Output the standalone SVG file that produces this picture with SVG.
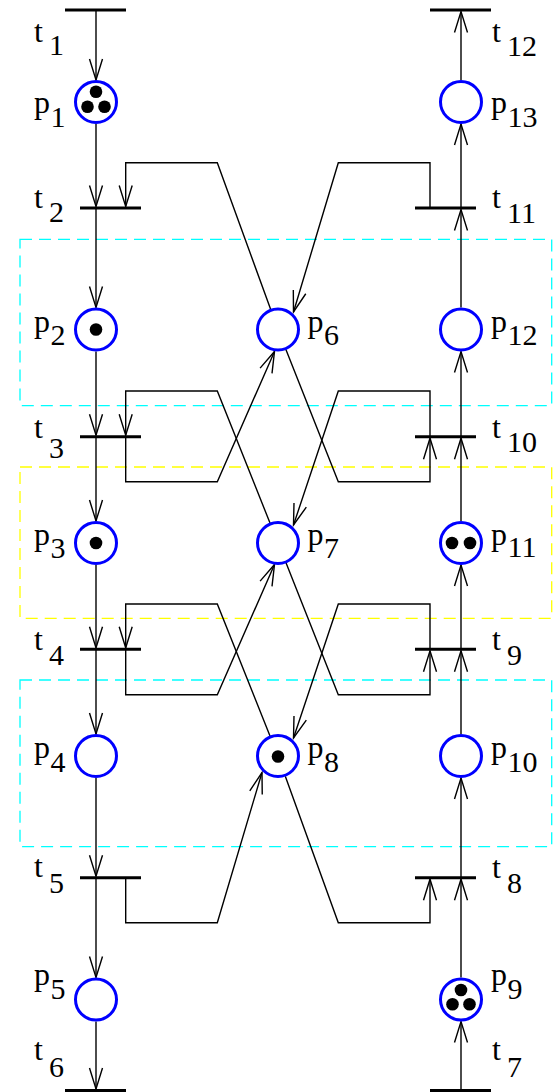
<svg xmlns="http://www.w3.org/2000/svg" width="553" height="1092" viewBox="0 0 553 1092">
<style>
.box{fill:none;stroke-width:1.3;stroke-dasharray:12 7}
.cy{stroke:#00FFFF}
.ye{stroke:#FFFF00}
.arc{fill:none;stroke:#000;stroke-width:1.4}
.pl{fill:#fff;stroke:#0000FF;stroke-width:3}
.tk{fill:#000}
.tr{stroke:#000;stroke-width:3}
.lb{font-size:32px;fill:#000}
.sb{font-size:30px;fill:#000}
</style>
<defs>
<marker id="ah" markerUnits="userSpaceOnUse" markerWidth="30" markerHeight="20" viewBox="-25 -10 30 20" refX="0" refY="0" orient="auto">
<path d="M-21,-6.5 L0,0 L-21,6.5" fill="none" stroke="#000" stroke-width="1.4"/>
</marker>
</defs>
<rect fill="#fff" x="0" y="0" width="553" height="1092"/>
<g id="regions">
<rect class="box cy" x="20" y="239.3" width="531.7" height="166.4"/>
<rect class="box ye" x="20" y="467" width="531.7" height="151.3"/>
<rect class="box cy" x="20" y="680" width="531.7" height="166.7"/>
</g>
<g id="connectors" class="arc">
<line x1="96" y1="10" x2="96" y2="80" marker-end="url(#ah)"/>
<line x1="96" y1="124" x2="96" y2="206.5" marker-end="url(#ah)"/>
<line x1="96" y1="208" x2="96" y2="307.5" marker-end="url(#ah)"/>
<line x1="96" y1="351.5" x2="96" y2="435.2" marker-end="url(#ah)"/>
<line x1="96" y1="436.7" x2="96" y2="521" marker-end="url(#ah)"/>
<line x1="96" y1="565" x2="96" y2="647.8" marker-end="url(#ah)"/>
<line x1="96" y1="649.3" x2="96" y2="734" marker-end="url(#ah)"/>
<line x1="96" y1="778" x2="96" y2="876.2" marker-end="url(#ah)"/>
<line x1="96" y1="877.7" x2="96" y2="977.5" marker-end="url(#ah)"/>
<line x1="96" y1="1021.5" x2="96" y2="1089" marker-end="url(#ah)"/>
<line x1="461" y1="1091" x2="461" y2="1021.5" marker-end="url(#ah)"/>
<line x1="461" y1="977.5" x2="461" y2="879.2" marker-end="url(#ah)"/>
<line x1="461" y1="877.7" x2="461" y2="778" marker-end="url(#ah)"/>
<line x1="461" y1="734" x2="461" y2="650.8" marker-end="url(#ah)"/>
<line x1="461" y1="649.3" x2="461" y2="565" marker-end="url(#ah)"/>
<line x1="461" y1="521" x2="461" y2="438.2" marker-end="url(#ah)"/>
<line x1="461" y1="436.7" x2="461" y2="351.5" marker-end="url(#ah)"/>
<line x1="461" y1="307.5" x2="461" y2="209.5" marker-end="url(#ah)"/>
<line x1="461" y1="208" x2="461" y2="124" marker-end="url(#ah)"/>
<line x1="461" y1="80" x2="461" y2="11.5" marker-end="url(#ah)"/>
<polyline points="270.8,309.8 217.3,162.7 125.7,162.7 125.7,206.5" marker-end="url(#ah)"/>
<polyline points="430,208 430,162.7 338.3,162.7 293.5,312" marker-end="url(#ah)"/>
<polyline points="270,523 217.3,391 125.7,391 125.7,435.2" marker-end="url(#ah)"/>
<polyline points="125.7,436.7 125.7,481.7 217.3,481.7 274.5,351.5" marker-end="url(#ah)"/>
<polyline points="430,436.7 430,391 338.3,391 293.5,525" marker-end="url(#ah)"/>
<polyline points="285.9,349.5 338.3,481.7 430,481.7 430,438.2" marker-end="url(#ah)"/>
<polyline points="270,736 217.3,604 125.7,604 125.7,647.8" marker-end="url(#ah)"/>
<polyline points="125.7,649.3 125.7,694.7 217.3,694.7 274.5,564.5" marker-end="url(#ah)"/>
<polyline points="430,649.3 430,604 338.3,604 293.5,738" marker-end="url(#ah)"/>
<polyline points="285.9,562.5 338.3,694.7 430,694.7 430,650.8" marker-end="url(#ah)"/>
<polyline points="125.7,877.7 125.7,922.7 217.3,922.7 262,772.5" marker-end="url(#ah)"/>
<polyline points="285.3,776.2 338.3,922.7 430,922.7 430,879.2" marker-end="url(#ah)"/>
</g>
<g id="nodes" font-family="Liberation Serif, DejaVu Serif, Times New Roman, serif">
<g id="t1"><line class="tr" x1="65" y1="10" x2="126" y2="10"/><text class="lb" x="34" y="41.5">t</text><text class="sb" x="49" y="55">1</text></g>
<g id="t2"><line class="tr" x1="80" y1="208" x2="141" y2="208"/><text class="lb" x="34" y="208">t</text><text class="sb" x="49" y="222">2</text></g>
<g id="t3"><line class="tr" x1="80" y1="436.7" x2="141" y2="436.7"/><text class="lb" x="34" y="437.5">t</text><text class="sb" x="49" y="458">3</text></g>
<g id="t4"><line class="tr" x1="80" y1="649.3" x2="141" y2="649.3"/><text class="lb" x="34" y="650">t</text><text class="sb" x="49" y="665">4</text></g>
<g id="t5"><line class="tr" x1="80" y1="877.7" x2="141" y2="877.7"/><text class="lb" x="34" y="877">t</text><text class="sb" x="49" y="893">5</text></g>
<g id="t6"><line class="tr" x1="65" y1="1090.5" x2="126" y2="1090.5"/><text class="lb" x="34" y="1060">t</text><text class="sb" x="49" y="1077">6</text></g>
<g id="t7"><line class="tr" x1="430" y1="1090.5" x2="491" y2="1090.5"/><text class="lb" x="492" y="1060">t</text><text class="sb" x="507" y="1077">7</text></g>
<g id="t8"><line class="tr" x1="415" y1="877.7" x2="476" y2="877.7"/><text class="lb" x="492" y="878">t</text><text class="sb" x="507" y="893">8</text></g>
<g id="t9"><line class="tr" x1="415" y1="649.3" x2="476" y2="649.3"/><text class="lb" x="492" y="650">t</text><text class="sb" x="507" y="665">9</text></g>
<g id="t10"><line class="tr" x1="415" y1="436.7" x2="476" y2="436.7"/><text class="lb" x="492" y="438">t</text><text class="sb" x="507" y="452">10</text></g>
<g id="t11"><line class="tr" x1="415" y1="208" x2="476" y2="208"/><text class="lb" x="492" y="208.3">t</text><text class="sb" x="507" y="223.3">11</text></g>
<g id="t12"><line class="tr" x1="430" y1="10" x2="491" y2="10"/><text class="lb" x="492" y="41.7">t</text><text class="sb" x="507" y="56">12</text></g>
<g id="p1"><circle class="pl" cx="96" cy="102" r="20.5"/><circle class="tk" cx="96" cy="91.7" r="6.3"/><circle class="tk" cx="87.5" cy="106.7" r="6.3"/><circle class="tk" cx="104.5" cy="106.7" r="6.3"/><text class="lb" x="34" y="113">p</text><text class="sb" x="50.5" y="127">1</text></g>
<g id="p2"><circle class="pl" cx="96" cy="329.5" r="20.5"/><circle class="tk" cx="96" cy="329.5" r="6.3"/><text class="lb" x="34" y="331.5">p</text><text class="sb" x="50.5" y="345">2</text></g>
<g id="p3"><circle class="pl" cx="96" cy="543" r="20.5"/><circle class="tk" cx="96" cy="543" r="6.3"/><text class="lb" x="34" y="545">p</text><text class="sb" x="50.5" y="558.3">3</text></g>
<g id="p4"><circle class="pl" cx="96" cy="756" r="20.5"/><text class="lb" x="34" y="758">p</text><text class="sb" x="50.5" y="771.7">4</text></g>
<g id="p5"><circle class="pl" cx="96" cy="999.5" r="20.5"/><text class="lb" x="34" y="985">p</text><text class="sb" x="50.5" y="999">5</text></g>
<g id="p6"><circle class="pl" cx="278" cy="329.5" r="20.5"/><text class="lb" x="307.5" y="331.5">p</text><text class="sb" x="324" y="345">6</text></g>
<g id="p7"><circle class="pl" cx="278" cy="543" r="20.5"/><text class="lb" x="307.5" y="545">p</text><text class="sb" x="324" y="558.3">7</text></g>
<g id="p8"><circle class="pl" cx="278" cy="756" r="20.5"/><circle class="tk" cx="278" cy="756.5" r="6.3"/><text class="lb" x="307.5" y="758">p</text><text class="sb" x="324" y="771.7">8</text></g>
<g id="p9"><circle class="pl" cx="461" cy="999.5" r="20.5"/><circle class="tk" cx="461" cy="990" r="6.3"/><circle class="tk" cx="452.5" cy="1004.3" r="6.3"/><circle class="tk" cx="469.5" cy="1004.3" r="6.3"/><text class="lb" x="491" y="985">p</text><text class="sb" x="507.5" y="999">9</text></g>
<g id="p10"><circle class="pl" cx="461" cy="756" r="20.5"/><text class="lb" x="491" y="758">p</text><text class="sb" x="507.5" y="771.7">10</text></g>
<g id="p11"><circle class="pl" cx="461" cy="543" r="20.5"/><circle class="tk" cx="452" cy="543" r="6.3"/><circle class="tk" cx="470" cy="543" r="6.3"/><text class="lb" x="491" y="545">p</text><text class="sb" x="507.5" y="556.7">11</text></g>
<g id="p12"><circle class="pl" cx="461" cy="329.5" r="20.5"/><text class="lb" x="491" y="331.5">p</text><text class="sb" x="507.5" y="345">12</text></g>
<g id="p13"><circle class="pl" cx="461" cy="102" r="20.5"/><text class="lb" x="491" y="113">p</text><text class="sb" x="507.5" y="127">13</text></g>
</g>
</svg>
